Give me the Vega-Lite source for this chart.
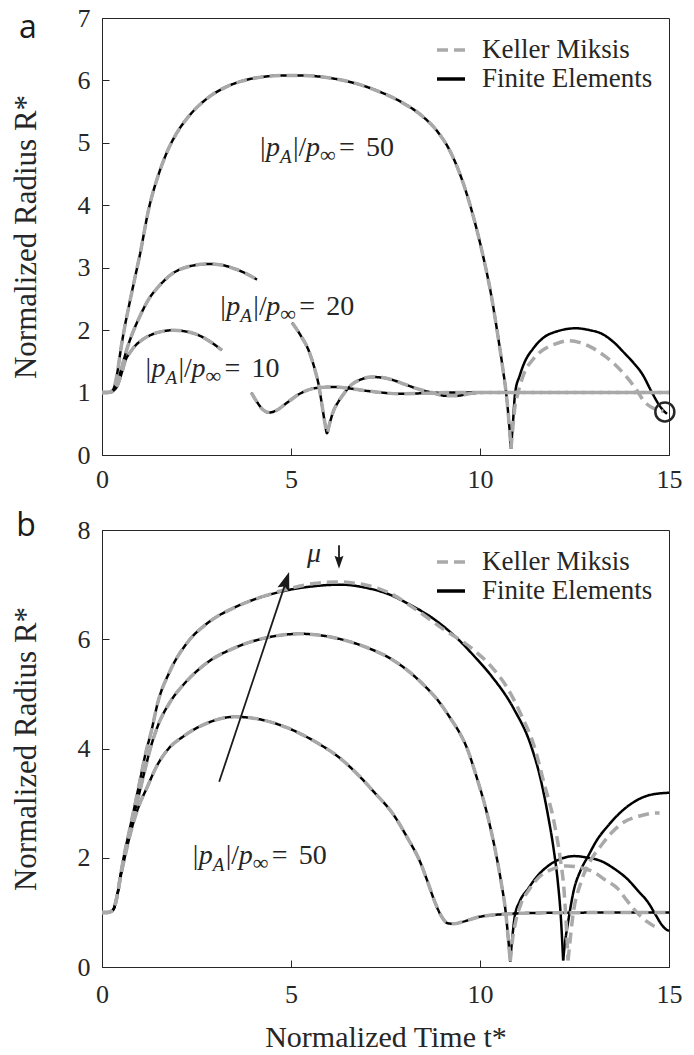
{
"$schema":"https://vega.github.io/schema/vega-lite/v6.json",
"background":"white",
"padding":{"left":9,"top":4,"right":5,"bottom":0},
"config":{
 "font":"Liberation Serif, DejaVu Serif, serif",
 "view":{"stroke":"#262626","strokeWidth":1},
 "axis":{"grid":false,"domainColor":"#262626","domainWidth":1,"tickColor":"#262626","tickWidth":1,"tickSize":-7,"labelColor":"#262626","labelFont":"Liberation Serif, DejaVu Serif, serif","labelFontSize":26,"labelFlush":false,"format":"d","titleColor":"#262626","titleFont":"Liberation Serif, DejaVu Serif, serif","titleFontSize":31,"titleFontWeight":"normal"},
 "legend":{"orient":"top-right","offset":16,"padding":0,"labelFont":"Liberation Serif, DejaVu Serif, serif","labelFontSize":27,"labelColor":"#262626","labelLimit":400,"symbolType":"stroke","symbolSize":784,"symbolStrokeWidth":3.5,"labelOffset":15,"rowPadding":-5},
 "concat":{"spacing":16}
},
"datasets":{
"pts":[
{"k":"a10a","m":"B","t":0,"R":1},{"k":"a10a","m":"B","t":0.15,"R":1},{"k":"a10a","m":"B","t":0.25,"R":1.01},{"k":"a10a","m":"B","t":0.32,"R":1.04},{"k":"a10a","m":"B","t":0.4,"R":1.1},{"k":"a10a","m":"B","t":0.45,"R":1.18},{"k":"a10a","m":"B","t":0.53,"R":1.33},{"k":"a10a","m":"B","t":0.61,"R":1.5},{"k":"a10a","m":"B","t":0.75,"R":1.65},{"k":"a10a","m":"B","t":0.88,"R":1.75},{"k":"a10a","m":"B","t":1.1,"R":1.86},{"k":"a10a","m":"B","t":1.32,"R":1.93},{"k":"a10a","m":"B","t":1.6,"R":1.98},{"k":"a10a","m":"B","t":1.9,"R":2.0},{"k":"a10a","m":"B","t":2.2,"R":1.98},{"k":"a10a","m":"B","t":2.47,"R":1.94},{"k":"a10a","m":"B","t":2.8,"R":1.84},{"k":"a10a","m":"B","t":3.17,"R":1.68},
{"k":"a10b","m":"B","t":3.95,"R":1.0},{"k":"a10b","m":"B","t":4.1,"R":0.85},{"k":"a10b","m":"B","t":4.25,"R":0.73},{"k":"a10b","m":"B","t":4.42,"R":0.68},{"k":"a10b","m":"B","t":4.6,"R":0.71},{"k":"a10b","m":"B","t":4.9,"R":0.84},{"k":"a10b","m":"B","t":5.2,"R":0.97},{"k":"a10b","m":"B","t":5.63,"R":1.07},{"k":"a10b","m":"B","t":6.08,"R":1.09},{"k":"a10b","m":"B","t":6.5,"R":1.07},{"k":"a10b","m":"B","t":6.96,"R":1.03},{"k":"a10b","m":"B","t":7.4,"R":1.0},{"k":"a10b","m":"B","t":7.85,"R":0.98},{"k":"a10b","m":"B","t":8.55,"R":0.99},{"k":"a10b","m":"B","t":9.18,"R":1.0},{"k":"a10b","m":"B","t":10,"R":1.0},{"k":"a10b","m":"B","t":12,"R":1.0},{"k":"a10b","m":"B","t":15,"R":1.0},
{"k":"a20a","m":"B","t":0,"R":1},{"k":"a20a","m":"B","t":0.15,"R":1},{"k":"a20a","m":"B","t":0.25,"R":1.01},{"k":"a20a","m":"B","t":0.32,"R":1.05},{"k":"a20a","m":"B","t":0.4,"R":1.15},{"k":"a20a","m":"B","t":0.45,"R":1.25},{"k":"a20a","m":"B","t":0.53,"R":1.42},{"k":"a20a","m":"B","t":0.65,"R":1.68},{"k":"a20a","m":"B","t":0.84,"R":2.0},{"k":"a20a","m":"B","t":1.0,"R":2.22},{"k":"a20a","m":"B","t":1.24,"R":2.5},{"k":"a20a","m":"B","t":1.5,"R":2.7},{"k":"a20a","m":"B","t":1.85,"R":2.9},{"k":"a20a","m":"B","t":2.3,"R":3.02},{"k":"a20a","m":"B","t":2.83,"R":3.06},{"k":"a20a","m":"B","t":3.2,"R":3.04},{"k":"a20a","m":"B","t":3.52,"R":2.98},{"k":"a20a","m":"B","t":3.8,"R":2.91},{"k":"a20a","m":"B","t":4.1,"R":2.81},
{"k":"a20b","m":"B","t":5.03,"R":2.12},{"k":"a20b","m":"B","t":5.25,"R":1.92},{"k":"a20b","m":"B","t":5.47,"R":1.67},{"k":"a20b","m":"B","t":5.64,"R":1.35},{"k":"a20b","m":"B","t":5.73,"R":1.13},{"k":"a20b","m":"B","t":5.82,"R":0.8},{"k":"a20b","m":"B","t":5.9,"R":0.5},{"k":"a20b","m":"B","t":5.95,"R":0.35},{"k":"a20b","m":"B","t":6.02,"R":0.5},{"k":"a20b","m":"B","t":6.12,"R":0.7},{"k":"a20b","m":"B","t":6.26,"R":0.86},{"k":"a20b","m":"B","t":6.42,"R":1.0},{"k":"a20b","m":"B","t":6.61,"R":1.13},{"k":"a20b","m":"B","t":6.85,"R":1.21},{"k":"a20b","m":"B","t":7.14,"R":1.25},{"k":"a20b","m":"B","t":7.41,"R":1.24},{"k":"a20b","m":"B","t":7.7,"R":1.2},{"k":"a20b","m":"B","t":8.02,"R":1.13},{"k":"a20b","m":"B","t":8.4,"R":1.05},{"k":"a20b","m":"B","t":8.73,"R":1.0},{"k":"a20b","m":"B","t":9.07,"R":0.95},{"k":"a20b","m":"B","t":9.4,"R":0.95},{"k":"a20b","m":"B","t":9.7,"R":0.98},{"k":"a20b","m":"B","t":10.1,"R":1.0},{"k":"a20b","m":"B","t":10.58,"R":1.0},{"k":"a20b","m":"B","t":12,"R":1.0},{"k":"a20b","m":"B","t":15,"R":1.0},
{"k":"a50a","m":"B","t":0,"R":1},{"k":"a50a","m":"B","t":0.15,"R":1},{"k":"a50a","m":"B","t":0.25,"R":1.02},{"k":"a50a","m":"B","t":0.32,"R":1.08},{"k":"a50a","m":"B","t":0.4,"R":1.3},{"k":"a50a","m":"B","t":0.5,"R":1.7},{"k":"a50a","m":"B","t":0.6,"R":2.05},{"k":"a50a","m":"B","t":0.7,"R":2.35},{"k":"a50a","m":"B","t":0.85,"R":2.78},{"k":"a50a","m":"B","t":1.0,"R":3.2},{"k":"a50a","m":"B","t":1.24,"R":3.95},{"k":"a50a","m":"B","t":1.5,"R":4.5},{"k":"a50a","m":"B","t":1.77,"R":4.92},{"k":"a50a","m":"B","t":2.0,"R":5.18},{"k":"a50a","m":"B","t":2.33,"R":5.45},{"k":"a50a","m":"B","t":2.8,"R":5.72},{"k":"a50a","m":"B","t":3.3,"R":5.9},{"k":"a50a","m":"B","t":3.7,"R":5.99},{"k":"a50a","m":"B","t":4.3,"R":6.06},{"k":"a50a","m":"B","t":4.8,"R":6.08},{"k":"a50a","m":"B","t":5.3,"R":6.08},{"k":"a50a","m":"B","t":5.9,"R":6.05},{"k":"a50a","m":"B","t":6.6,"R":5.97},{"k":"a50a","m":"B","t":7.3,"R":5.83},{"k":"a50a","m":"B","t":7.9,"R":5.66},{"k":"a50a","m":"B","t":8.47,"R":5.43},{"k":"a50a","m":"B","t":8.85,"R":5.2},{"k":"a50a","m":"B","t":9.18,"R":4.9},{"k":"a50a","m":"B","t":9.47,"R":4.5},{"k":"a50a","m":"B","t":9.74,"R":4.0},{"k":"a50a","m":"B","t":10.05,"R":3.27},{"k":"a50a","m":"B","t":10.3,"R":2.55},{"k":"a50a","m":"B","t":10.45,"R":2.0},{"k":"a50a","m":"B","t":10.6,"R":1.4},{"k":"a50a","m":"B","t":10.7,"R":0.95},{"k":"a50a","m":"B","t":10.77,"R":0.5},{"k":"a50a","m":"B","t":10.82,"R":0.1},
{"k":"a50f","m":"FE","t":10.82,"R":0.1},{"k":"a50f","m":"FE","t":10.87,"R":0.5},{"k":"a50f","m":"FE","t":10.93,"R":1.0},{"k":"a50f","m":"FE","t":11.05,"R":1.27},{"k":"a50f","m":"FE","t":11.19,"R":1.5},{"k":"a50f","m":"FE","t":11.4,"R":1.7},{"k":"a50f","m":"FE","t":11.64,"R":1.86},{"k":"a50f","m":"FE","t":12.09,"R":1.99},{"k":"a50f","m":"FE","t":12.53,"R":2.03},{"k":"a50f","m":"FE","t":12.9,"R":2.0},{"k":"a50f","m":"FE","t":13.23,"R":1.94},{"k":"a50f","m":"FE","t":13.55,"R":1.8},{"k":"a50f","m":"FE","t":13.84,"R":1.62},{"k":"a50f","m":"FE","t":14.07,"R":1.47},{"k":"a50f","m":"FE","t":14.29,"R":1.3},{"k":"a50f","m":"FE","t":14.55,"R":1.0},{"k":"a50f","m":"FE","t":14.72,"R":0.82},{"k":"a50f","m":"FE","t":14.87,"R":0.7},{"k":"a50f","m":"FE","t":14.95,"R":0.66},
{"k":"a50k","m":"KM","t":10.82,"R":0.1},{"k":"a50k","m":"KM","t":10.87,"R":0.45},{"k":"a50k","m":"KM","t":10.92,"R":0.75},{"k":"a50k","m":"KM","t":11.0,"R":0.98},{"k":"a50k","m":"KM","t":11.16,"R":1.3},{"k":"a50k","m":"KM","t":11.4,"R":1.53},{"k":"a50k","m":"KM","t":11.64,"R":1.67},{"k":"a50k","m":"KM","t":12.0,"R":1.78},{"k":"a50k","m":"KM","t":12.35,"R":1.83},{"k":"a50k","m":"KM","t":12.65,"R":1.8},{"k":"a50k","m":"KM","t":12.96,"R":1.72},{"k":"a50k","m":"KM","t":13.27,"R":1.6},{"k":"a50k","m":"KM","t":13.57,"R":1.45},{"k":"a50k","m":"KM","t":13.85,"R":1.27},{"k":"a50k","m":"KM","t":14.1,"R":1.08},{"k":"a50k","m":"KM","t":14.37,"R":0.84},{"k":"a50k","m":"KM","t":14.55,"R":0.76},{"k":"a50k","m":"KM","t":14.73,"R":0.72},{"k":"a50k","m":"KM","t":14.85,"R":0.7},
{"k":"bl","m":"B","t":0,"R":1},{"k":"bl","m":"B","t":0.15,"R":1},{"k":"bl","m":"B","t":0.25,"R":1.02},{"k":"bl","m":"B","t":0.32,"R":1.08},{"k":"bl","m":"B","t":0.4,"R":1.3},{"k":"bl","m":"B","t":0.5,"R":1.68},{"k":"bl","m":"B","t":0.6,"R":2.0},{"k":"bl","m":"B","t":0.7,"R":2.3},{"k":"bl","m":"B","t":0.82,"R":2.62},{"k":"bl","m":"B","t":0.95,"R":2.9},{"k":"bl","m":"B","t":1.2,"R":3.3},{"k":"bl","m":"B","t":1.45,"R":3.68},{"k":"bl","m":"B","t":1.74,"R":3.98},{"k":"bl","m":"B","t":2.17,"R":4.23},{"k":"bl","m":"B","t":2.8,"R":4.47},{"k":"bl","m":"B","t":3.5,"R":4.58},{"k":"bl","m":"B","t":4.2,"R":4.53},{"k":"bl","m":"B","t":4.9,"R":4.38},{"k":"bl","m":"B","t":5.6,"R":4.14},{"k":"bl","m":"B","t":6.32,"R":3.81},{"k":"bl","m":"B","t":6.8,"R":3.5},{"k":"bl","m":"B","t":7.2,"R":3.2},{"k":"bl","m":"B","t":7.7,"R":2.8},{"k":"bl","m":"B","t":8.1,"R":2.34},{"k":"bl","m":"B","t":8.4,"R":1.95},{"k":"bl","m":"B","t":8.62,"R":1.55},{"k":"bl","m":"B","t":8.8,"R":1.2},{"k":"bl","m":"B","t":8.97,"R":0.94},{"k":"bl","m":"B","t":9.15,"R":0.8},{"k":"bl","m":"B","t":9.3,"R":0.79},{"k":"bl","m":"B","t":9.5,"R":0.82},{"k":"bl","m":"B","t":10.0,"R":0.92},{"k":"bl","m":"B","t":10.7,"R":0.97},{"k":"bl","m":"B","t":11.5,"R":0.99},{"k":"bl","m":"B","t":15,"R":1.0},
{"k":"bm","m":"B","t":0,"R":1},{"k":"bm","m":"B","t":0.15,"R":1},{"k":"bm","m":"B","t":0.25,"R":1.02},{"k":"bm","m":"B","t":0.32,"R":1.08},{"k":"bm","m":"B","t":0.4,"R":1.3},{"k":"bm","m":"B","t":0.5,"R":1.7},{"k":"bm","m":"B","t":0.6,"R":2.05},{"k":"bm","m":"B","t":0.7,"R":2.35},{"k":"bm","m":"B","t":0.85,"R":2.8},{"k":"bm","m":"B","t":1.0,"R":3.22},{"k":"bm","m":"B","t":1.15,"R":3.65},{"k":"bm","m":"B","t":1.3,"R":4.05},{"k":"bm","m":"B","t":1.48,"R":4.42},{"k":"bm","m":"B","t":1.8,"R":4.85},{"k":"bm","m":"B","t":2.17,"R":5.18},{"k":"bm","m":"B","t":2.8,"R":5.58},{"k":"bm","m":"B","t":3.5,"R":5.84},{"k":"bm","m":"B","t":4.3,"R":6.02},{"k":"bm","m":"B","t":5.26,"R":6.1},{"k":"bm","m":"B","t":5.8,"R":6.07},{"k":"bm","m":"B","t":6.32,"R":6.0},{"k":"bm","m":"B","t":7.0,"R":5.85},{"k":"bm","m":"B","t":7.65,"R":5.64},{"k":"bm","m":"B","t":8.1,"R":5.42},{"k":"bm","m":"B","t":8.53,"R":5.15},{"k":"bm","m":"B","t":8.9,"R":4.87},{"k":"bm","m":"B","t":9.23,"R":4.54},{"k":"bm","m":"B","t":9.45,"R":4.3},{"k":"bm","m":"B","t":9.63,"R":4.05},{"k":"bm","m":"B","t":9.9,"R":3.5},{"k":"bm","m":"B","t":10.2,"R":2.77},{"k":"bm","m":"B","t":10.4,"R":2.15},{"k":"bm","m":"B","t":10.56,"R":1.55},{"k":"bm","m":"B","t":10.68,"R":1.0},{"k":"bm","m":"B","t":10.75,"R":0.5},{"k":"bm","m":"B","t":10.8,"R":0.1},
{"k":"bmf","m":"FE","t":10.8,"R":0.1},{"k":"bmf","m":"FE","t":10.85,"R":0.5},{"k":"bmf","m":"FE","t":10.92,"R":0.93},{"k":"bmf","m":"FE","t":11.05,"R":1.2},{"k":"bmf","m":"FE","t":11.27,"R":1.43},{"k":"bmf","m":"FE","t":11.5,"R":1.65},{"k":"bmf","m":"FE","t":11.8,"R":1.85},{"k":"bmf","m":"FE","t":12.1,"R":1.97},{"k":"bmf","m":"FE","t":12.5,"R":2.03},{"k":"bmf","m":"FE","t":12.85,"R":2.0},{"k":"bmf","m":"FE","t":13.2,"R":1.94},{"k":"bmf","m":"FE","t":13.55,"R":1.8},{"k":"bmf","m":"FE","t":13.9,"R":1.61},{"k":"bmf","m":"FE","t":14.2,"R":1.38},{"k":"bmf","m":"FE","t":14.44,"R":1.19},{"k":"bmf","m":"FE","t":14.65,"R":0.95},{"k":"bmf","m":"FE","t":14.8,"R":0.78},{"k":"bmf","m":"FE","t":14.92,"R":0.69},{"k":"bmf","m":"FE","t":15,"R":0.66},
{"k":"bmk","m":"KM","t":10.8,"R":0.1},{"k":"bmk","m":"KM","t":10.86,"R":0.5},{"k":"bmk","m":"KM","t":10.95,"R":0.85},{"k":"bmk","m":"KM","t":11.08,"R":1.15},{"k":"bmk","m":"KM","t":11.3,"R":1.42},{"k":"bmk","m":"KM","t":11.6,"R":1.67},{"k":"bmk","m":"KM","t":11.95,"R":1.8},{"k":"bmk","m":"KM","t":12.3,"R":1.85},{"k":"bmk","m":"KM","t":12.65,"R":1.82},{"k":"bmk","m":"KM","t":13.0,"R":1.74},{"k":"bmk","m":"KM","t":13.3,"R":1.6},{"k":"bmk","m":"KM","t":13.65,"R":1.43},{"k":"bmk","m":"KM","t":13.85,"R":1.25},{"k":"bmk","m":"KM","t":14.07,"R":1.06},{"k":"bmk","m":"KM","t":14.25,"R":0.93},{"k":"bmk","m":"KM","t":14.44,"R":0.82},{"k":"bmk","m":"KM","t":14.6,"R":0.75},{"k":"bmk","m":"KM","t":14.72,"R":0.72},
{"k":"bt","m":"B","t":0,"R":1},{"k":"bt","m":"B","t":0.15,"R":1},{"k":"bt","m":"B","t":0.25,"R":1.02},{"k":"bt","m":"B","t":0.32,"R":1.08},{"k":"bt","m":"B","t":0.4,"R":1.3},{"k":"bt","m":"B","t":0.5,"R":1.72},{"k":"bt","m":"B","t":0.6,"R":2.1},{"k":"bt","m":"B","t":0.7,"R":2.42},{"k":"bt","m":"B","t":0.85,"R":2.9},{"k":"bt","m":"B","t":1.0,"R":3.4},{"k":"bt","m":"B","t":1.15,"R":3.9},{"k":"bt","m":"B","t":1.3,"R":4.3},{"k":"bt","m":"B","t":1.48,"R":4.85},{"k":"bt","m":"B","t":1.8,"R":5.42},{"k":"bt","m":"B","t":2.27,"R":5.95},{"k":"bt","m":"B","t":2.8,"R":6.3},{"k":"bt","m":"B","t":3.5,"R":6.58},{"k":"bt","m":"B","t":4.2,"R":6.77},
{"k":"btf","m":"FE","t":4.2,"R":6.77},{"k":"btf","m":"FE","t":4.92,"R":6.9},{"k":"btf","m":"FE","t":5.6,"R":6.97},{"k":"btf","m":"FE","t":6.3,"R":7.0},{"k":"btf","m":"FE","t":7.0,"R":6.94},{"k":"btf","m":"FE","t":7.6,"R":6.82},{"k":"btf","m":"FE","t":8.1,"R":6.65},{"k":"btf","m":"FE","t":8.8,"R":6.36},{"k":"btf","m":"FE","t":9.42,"R":6.0},{"k":"btf","m":"FE","t":9.9,"R":5.65},{"k":"btf","m":"FE","t":10.3,"R":5.33},{"k":"btf","m":"FE","t":10.9,"R":4.72},{"k":"btf","m":"FE","t":11.35,"R":4.05},{"k":"btf","m":"FE","t":11.6,"R":3.45},{"k":"btf","m":"FE","t":11.8,"R":2.77},{"k":"btf","m":"FE","t":11.95,"R":2.15},{"k":"btf","m":"FE","t":12.06,"R":1.55},{"k":"btf","m":"FE","t":12.14,"R":0.9},{"k":"btf","m":"FE","t":12.2,"R":0.12},
{"k":"btf2","m":"FE","t":12.2,"R":0.12},{"k":"btf2","m":"FE","t":12.25,"R":0.45},{"k":"btf2","m":"FE","t":12.33,"R":0.82},{"k":"btf2","m":"FE","t":12.49,"R":1.43},{"k":"btf2","m":"FE","t":12.65,"R":1.75},{"k":"btf2","m":"FE","t":12.86,"R":2.03},{"k":"btf2","m":"FE","t":13.1,"R":2.33},{"k":"btf2","m":"FE","t":13.38,"R":2.58},{"k":"btf2","m":"FE","t":13.7,"R":2.82},{"k":"btf2","m":"FE","t":14.07,"R":3.02},{"k":"btf2","m":"FE","t":14.5,"R":3.15},{"k":"btf2","m":"FE","t":15,"R":3.19},
{"k":"btk","m":"KM","t":4.2,"R":6.77},{"k":"btk","m":"KM","t":4.92,"R":6.92},{"k":"btk","m":"KM","t":5.6,"R":7.02},{"k":"btk","m":"KM","t":6.2,"R":7.05},{"k":"btk","m":"KM","t":7.0,"R":6.99},{"k":"btk","m":"KM","t":7.6,"R":6.85},{"k":"btk","m":"KM","t":8.25,"R":6.57},{"k":"btk","m":"KM","t":9.0,"R":6.2},{"k":"btk","m":"KM","t":9.84,"R":5.8},{"k":"btk","m":"KM","t":10.3,"R":5.5},{"k":"btk","m":"KM","t":10.74,"R":5.09},{"k":"btk","m":"KM","t":11.1,"R":4.6},{"k":"btk","m":"KM","t":11.43,"R":4.05},{"k":"btk","m":"KM","t":11.7,"R":3.35},{"k":"btk","m":"KM","t":11.96,"R":2.65},{"k":"btk","m":"KM","t":12.12,"R":2.0},{"k":"btk","m":"KM","t":12.22,"R":1.43},{"k":"btk","m":"KM","t":12.28,"R":0.8},{"k":"btk","m":"KM","t":12.33,"R":0.12},
{"k":"btk2","m":"KM","t":12.33,"R":0.12},{"k":"btk2","m":"KM","t":12.37,"R":0.4},{"k":"btk2","m":"KM","t":12.45,"R":0.9},{"k":"btk2","m":"KM","t":12.67,"R":1.55},{"k":"btk2","m":"KM","t":12.9,"R":1.92},{"k":"btk2","m":"KM","t":13.2,"R":2.22},{"k":"btk2","m":"KM","t":13.5,"R":2.47},{"k":"btk2","m":"KM","t":13.8,"R":2.65},{"k":"btk2","m":"KM","t":14.2,"R":2.76},{"k":"btk2","m":"KM","t":14.66,"R":2.82},{"k":"btk2","m":"KM","t":14.75,"R":2.82}
],
"labs":[{"p":"a","t":4.18,"R":4.79,"v":"50"},{"p":"a","t":3.13,"R":2.25,"v":"20"},{"p":"a","t":1.15,"R":1.25,"v":"10"},{"p":"b","t":2.4,"R":1.89,"v":"50"}]
},
"resolve":{"scale":{"x":"independent","y":"independent","color":"independent","strokeDash":"independent"},"legend":{"color":"independent","strokeDash":"independent"}},
"vconcat":[
{"width":567,"height":437,
 "layer":[
  {"data":{"name":"pts"},"transform":[{"filter":"substring(datum.k,0,1)=='a' && datum.m!='KM'"}],
   "mark":{"type":"line","strokeWidth":2.5,"interpolate":"monotone"},
   "encoding":{
    "x":{"field":"t","type":"quantitative","scale":{"domain":[0,15],"nice":false},"axis":{"values":[0,5,10,15],"title":null,"labelPadding":18}},
    "y":{"field":"R","type":"quantitative","scale":{"domain":[0,7],"nice":false},"axis":{"values":[0,1,2,3,4,5,6,7],"title":"Normalized Radius R*","titlePadding":35,"labelPadding":19}},
    "detail":{"field":"k"},
    "color":{"datum":"Finite Elements","type":"nominal","scale":{"domain":["Keller Miksis","Finite Elements"],"range":["#a9a9a9","#000000"]},"legend":{"title":null}},
    "strokeDash":{"datum":"Finite Elements","type":"nominal","scale":{"domain":["Keller Miksis","Finite Elements"],"range":[[11,6],[1,0]]},"legend":{"title":null}}
   }},
  {"data":{"name":"pts"},"transform":[{"filter":"substring(datum.k,0,1)=='a' && datum.m!='FE'"}],
   "mark":{"type":"line","strokeWidth":3.5,"interpolate":"monotone"},
   "encoding":{
    "x":{"field":"t","type":"quantitative"},
    "y":{"field":"R","type":"quantitative"},
    "detail":{"field":"k"},
    "color":{"datum":"Keller Miksis","type":"nominal"},
    "strokeDash":{"datum":"Keller Miksis","type":"nominal"}
   }},
  {"data":{"name":"labs"},"transform":[{"filter":"datum.p=='a'"}],"mark":{"type":"text","text":"|","font":"Liberation Serif, DejaVu Serif, serif","fontSize":28,"align":"left","baseline":"alphabetic","color":"#262626"},"encoding":{"x":{"field":"t","type":"quantitative"},"y":{"field":"R","type":"quantitative"}}},
  {"data":{"name":"labs"},"transform":[{"filter":"datum.p=='a'"}],"mark":{"type":"text","text":"p","fontStyle":"italic","font":"Liberation Serif, DejaVu Serif, serif","fontSize":28,"align":"left","baseline":"alphabetic","dx":6,"color":"#262626"},"encoding":{"x":{"field":"t","type":"quantitative"},"y":{"field":"R","type":"quantitative"}}},
  {"data":{"name":"labs"},"transform":[{"filter":"datum.p=='a'"}],"mark":{"type":"text","text":"A","fontStyle":"italic","font":"Liberation Serif, DejaVu Serif, serif","fontSize":19,"align":"left","baseline":"alphabetic","dx":20,"dy":7,"color":"#262626"},"encoding":{"x":{"field":"t","type":"quantitative"},"y":{"field":"R","type":"quantitative"}}},
  {"data":{"name":"labs"},"transform":[{"filter":"datum.p=='a'"}],"mark":{"type":"text","text":"|/","font":"Liberation Serif, DejaVu Serif, serif","fontSize":28,"align":"left","baseline":"alphabetic","dx":33,"color":"#262626"},"encoding":{"x":{"field":"t","type":"quantitative"},"y":{"field":"R","type":"quantitative"}}},
  {"data":{"name":"labs"},"transform":[{"filter":"datum.p=='a'"}],"mark":{"type":"text","text":"p","fontStyle":"italic","font":"Liberation Serif, DejaVu Serif, serif","fontSize":28,"align":"left","baseline":"alphabetic","dx":46,"color":"#262626"},"encoding":{"x":{"field":"t","type":"quantitative"},"y":{"field":"R","type":"quantitative"}}},
  {"data":{"name":"labs"},"transform":[{"filter":"datum.p=='a'"}],"mark":{"type":"text","text":"∞","font":"Liberation Serif, DejaVu Serif, serif","fontSize":22,"align":"left","baseline":"alphabetic","dx":60,"dy":6,"color":"#262626"},"encoding":{"x":{"field":"t","type":"quantitative"},"y":{"field":"R","type":"quantitative"}}},
  {"data":{"name":"labs"},"transform":[{"filter":"datum.p=='a'"}],"mark":{"type":"text","text":"=","font":"Liberation Serif, DejaVu Serif, serif","fontSize":28,"align":"left","baseline":"alphabetic","dx":79,"color":"#262626"},"encoding":{"x":{"field":"t","type":"quantitative"},"y":{"field":"R","type":"quantitative"}}},
  {"data":{"name":"labs"},"transform":[{"filter":"datum.p=='a'"}],"mark":{"type":"text","font":"Liberation Serif, DejaVu Serif, serif","fontSize":28,"align":"left","baseline":"alphabetic","dx":106,"color":"#262626"},"encoding":{"x":{"field":"t","type":"quantitative"},"y":{"field":"R","type":"quantitative"},"text":{"field":"v"}}},
  {"data":{"values":[{"t":14.89,"R":0.69}]},"mark":{"type":"point","shape":"circle","filled":false,"size":361,"stroke":"#262626","strokeWidth":2.5,"opacity":1},"encoding":{"x":{"field":"t","type":"quantitative"},"y":{"field":"R","type":"quantitative"}}},
  {"data":{"values":[{"t":-1.96,"R":6.68,"s":"a"}]},"mark":{"type":"text","font":"Open Sans","fontSize":32,"align":"center","baseline":"alphabetic","color":"#1a1a1a"},"encoding":{"x":{"field":"t","type":"quantitative"},"y":{"field":"R","type":"quantitative"},"text":{"field":"s"}}}
 ]},
{"width":567,"height":437,
 "layer":[
  {"data":{"name":"pts"},"transform":[{"filter":"substring(datum.k,0,1)=='b' && datum.m!='KM'"}],
   "mark":{"type":"line","strokeWidth":2.5,"interpolate":"monotone"},
   "encoding":{
    "x":{"field":"t","type":"quantitative","scale":{"domain":[0,15],"nice":false},"axis":{"values":[0,5,10,15],"title":"Normalized Time t*","titleFontSize":30,"titlePadding":15,"labelPadding":21}},
    "y":{"field":"R","type":"quantitative","scale":{"domain":[0,8],"nice":false},"axis":{"values":[0,2,4,6,8],"title":"Normalized Radius R*","titlePadding":35,"labelPadding":19}},
    "detail":{"field":"k"},
    "color":{"datum":"Finite Elements","type":"nominal","scale":{"domain":["Keller Miksis","Finite Elements"],"range":["#a9a9a9","#000000"]},"legend":{"title":null}},
    "strokeDash":{"datum":"Finite Elements","type":"nominal","scale":{"domain":["Keller Miksis","Finite Elements"],"range":[[11,6],[1,0]]},"legend":{"title":null}}
   }},
  {"data":{"name":"pts"},"transform":[{"filter":"substring(datum.k,0,1)=='b' && datum.m!='FE'"}],
   "mark":{"type":"line","strokeWidth":3.5,"interpolate":"monotone"},
   "encoding":{
    "x":{"field":"t","type":"quantitative"},
    "y":{"field":"R","type":"quantitative"},
    "detail":{"field":"k"},
    "color":{"datum":"Keller Miksis","type":"nominal"},
    "strokeDash":{"datum":"Keller Miksis","type":"nominal"}
   }},
  {"data":{"name":"labs"},"transform":[{"filter":"datum.p=='b'"}],"mark":{"type":"text","text":"|","font":"Liberation Serif, DejaVu Serif, serif","fontSize":28,"align":"left","baseline":"alphabetic","color":"#262626"},"encoding":{"x":{"field":"t","type":"quantitative"},"y":{"field":"R","type":"quantitative"}}},
  {"data":{"name":"labs"},"transform":[{"filter":"datum.p=='b'"}],"mark":{"type":"text","text":"p","fontStyle":"italic","font":"Liberation Serif, DejaVu Serif, serif","fontSize":28,"align":"left","baseline":"alphabetic","dx":6,"color":"#262626"},"encoding":{"x":{"field":"t","type":"quantitative"},"y":{"field":"R","type":"quantitative"}}},
  {"data":{"name":"labs"},"transform":[{"filter":"datum.p=='b'"}],"mark":{"type":"text","text":"A","fontStyle":"italic","font":"Liberation Serif, DejaVu Serif, serif","fontSize":19,"align":"left","baseline":"alphabetic","dx":20,"dy":7,"color":"#262626"},"encoding":{"x":{"field":"t","type":"quantitative"},"y":{"field":"R","type":"quantitative"}}},
  {"data":{"name":"labs"},"transform":[{"filter":"datum.p=='b'"}],"mark":{"type":"text","text":"|/","font":"Liberation Serif, DejaVu Serif, serif","fontSize":28,"align":"left","baseline":"alphabetic","dx":33,"color":"#262626"},"encoding":{"x":{"field":"t","type":"quantitative"},"y":{"field":"R","type":"quantitative"}}},
  {"data":{"name":"labs"},"transform":[{"filter":"datum.p=='b'"}],"mark":{"type":"text","text":"p","fontStyle":"italic","font":"Liberation Serif, DejaVu Serif, serif","fontSize":28,"align":"left","baseline":"alphabetic","dx":46,"color":"#262626"},"encoding":{"x":{"field":"t","type":"quantitative"},"y":{"field":"R","type":"quantitative"}}},
  {"data":{"name":"labs"},"transform":[{"filter":"datum.p=='b'"}],"mark":{"type":"text","text":"∞","font":"Liberation Serif, DejaVu Serif, serif","fontSize":22,"align":"left","baseline":"alphabetic","dx":60,"dy":6,"color":"#262626"},"encoding":{"x":{"field":"t","type":"quantitative"},"y":{"field":"R","type":"quantitative"}}},
  {"data":{"name":"labs"},"transform":[{"filter":"datum.p=='b'"}],"mark":{"type":"text","text":"=","font":"Liberation Serif, DejaVu Serif, serif","fontSize":28,"align":"left","baseline":"alphabetic","dx":79,"color":"#262626"},"encoding":{"x":{"field":"t","type":"quantitative"},"y":{"field":"R","type":"quantitative"}}},
  {"data":{"name":"labs"},"transform":[{"filter":"datum.p=='b'"}],"mark":{"type":"text","font":"Liberation Serif, DejaVu Serif, serif","fontSize":28,"align":"left","baseline":"alphabetic","dx":106,"color":"#262626"},"encoding":{"x":{"field":"t","type":"quantitative"},"y":{"field":"R","type":"quantitative"},"text":{"field":"v"}}},
  {"data":{"values":[{"t":3.1,"R":3.39,"t2":4.87,"R2":7.06},{"t":6.27,"R":7.72,"t2":6.27,"R2":7.42}]},"mark":{"type":"rule","stroke":"#1a1a1a","strokeWidth":1.8},"encoding":{"x":{"field":"t","type":"quantitative"},"y":{"field":"R","type":"quantitative"},"x2":{"field":"t2"},"y2":{"field":"R2"}}},
  {"data":{"values":[{"t":4.856,"R":7.034}]},"mark":{"type":"point","shape":"M0,-1L0.55,0.6L0,0.35L-0.55,0.6Z","filled":true,"size":506,"angle":18.5,"color":"#1a1a1a","opacity":1,"strokeWidth":0},"encoding":{"x":{"field":"t","type":"quantitative"},"y":{"field":"R","type":"quantitative"}}},
  {"data":{"values":[{"t":6.27,"R":7.44}]},"mark":{"type":"point","shape":"M0,1L0.55,-0.6L0,-0.35L-0.55,-0.6Z","filled":true,"size":264,"color":"#1a1a1a","opacity":1,"strokeWidth":0},"encoding":{"x":{"field":"t","type":"quantitative"},"y":{"field":"R","type":"quantitative"}}},
  {"data":{"values":[{"t":5.61,"R":7.42,"s":"μ"}]},"mark":{"type":"text","font":"Liberation Serif, DejaVu Serif, serif","fontStyle":"italic","fontSize":28,"align":"center","baseline":"alphabetic","color":"#262626"},"encoding":{"x":{"field":"t","type":"quantitative"},"y":{"field":"R","type":"quantitative"},"text":{"field":"s"}}},
  {"data":{"values":[{"t":-2.01,"R":7.89,"s":"b"}]},"mark":{"type":"text","font":"Open Sans","fontSize":32,"align":"center","baseline":"alphabetic","color":"#1a1a1a"},"encoding":{"x":{"field":"t","type":"quantitative"},"y":{"field":"R","type":"quantitative"},"text":{"field":"s"}}}
 ]}
]
}
